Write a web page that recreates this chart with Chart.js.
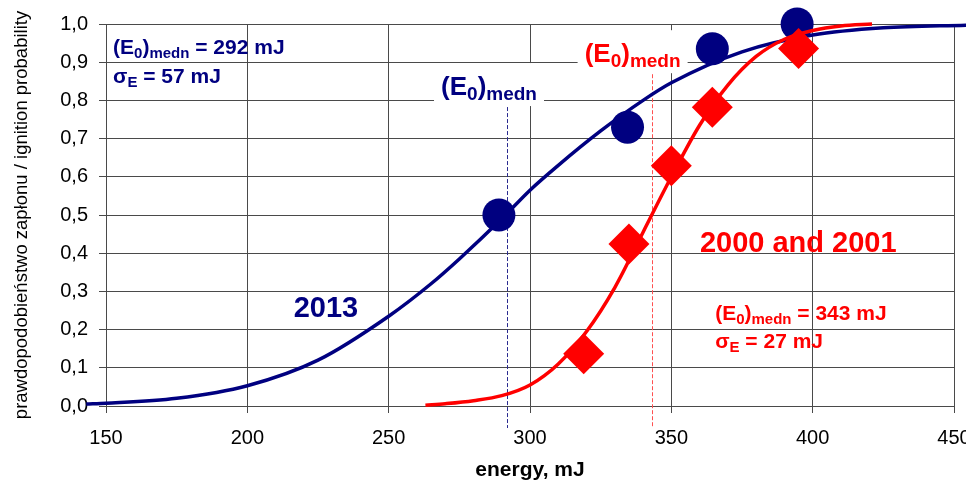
<!DOCTYPE html>
<html>
<head>
<meta charset="utf-8">
<script src="https://cdn.jsdelivr.net/npm/chart.js@4/dist/chart.umd.min.js"></script>
<style>
  html, body { margin: 0; padding: 0; background: #fff; }
  #wrap { width: 966px; height: 484px; position: relative; }
</style>
</head>
<body>
<div id="wrap"><canvas id="chart" width="966" height="484"></canvas></div>
<script>
// Axis ticks
const energyTicks = [150, 200, 250, 300, 350, 400, 450];
const probTicks = [0, 0.1, 0.2, 0.3, 0.4, 0.5, 0.6, 0.7, 0.8, 0.9, 1.0];

// Fitted ignition-probability curve, 2013 tests
const fit2013Energy = [143, 150, 175, 200, 225, 250, 265, 275, 290, 300, 310, 325, 340, 350, 375, 400, 425, 455];
const fit2013Prob   = [0.005, 0.007, 0.02, 0.053, 0.12, 0.235, 0.32, 0.385, 0.49, 0.565, 0.63, 0.72, 0.80, 0.846, 0.927, 0.971, 0.99, 0.997];

// Fitted ignition-probability curve, 2000 and 2001 tests
const fit2000Energy = [263, 270, 280, 290, 300, 310, 320, 330, 340, 350, 360, 370, 380, 390, 400, 410, 421];
const fit2000Prob   = [0.002, 0.006, 0.014, 0.027, 0.055, 0.11, 0.195, 0.31, 0.455, 0.60, 0.735, 0.84, 0.915, 0.96, 0.983, 0.995, 1.0];

// Measured ignition frequencies
const obs2013Energy = [289, 334.5, 364.5, 394.5];
const obs2013Prob   = [0.50, 0.73, 0.935, 1.0];
const obs2000Energy = [319, 335, 350, 364.5, 395];
const obs2000Prob   = [0.137, 0.424, 0.629, 0.782, 0.936];

// Median ignition energies
const median2013 = 292;
const median2000 = 343;

const NAVY = '#000080';
const RED = '#FF0000';
const GRID = '#4a4a4a';
const FONT = "'Liberation Sans', Arial, Helvetica, sans-serif";

const pts = (xs, ys) => xs.map((x, i) => ({ x: x, y: ys[i] }));

// Draws a run of text pieces, some of them as subscripts
function richText(ctx, pieces, x, y, align, color) {
  ctx.save();
  ctx.fillStyle = color;
  ctx.textBaseline = 'alphabetic';
  ctx.textAlign = 'left';
  let total = 0;
  pieces.forEach(p => {
    ctx.font = 'bold ' + p.size + 'px ' + FONT;
    p.w = ctx.measureText(p.t).width;
    total += p.w;
  });
  let cx = align === 'center' ? x - total / 2 : x;
  pieces.forEach(p => {
    ctx.font = 'bold ' + p.size + 'px ' + FONT;
    ctx.fillText(p.t, cx, y + (p.dy || 0));
    cx += p.w;
  });
  ctx.restore();
  return total;
}

const medianLabel = (size, sub) => [
  { t: '(E', size: size },
  { t: '0', size: sub, dy: sub * 0.27 },
  { t: ')', size: size },
  { t: 'medn', size: sub, dy: sub * 0.27 }
];

const notes = {
  id: 'notes',
  beforeDatasetsDraw(chart) {
    const { ctx, scales: { x, y } } = chart;
    const axisBottom = chart.chartArea.bottom;

    // Labelled median markers: white tag over the grid, dashed drop line
    const tags = [
      { cx: 285.5, base: 0.814, color: NAVY, median: median2013, dash: '#2a2a90' },
      { cx: 336.3, base: 0.900, color: RED, median: median2000, dash: '#ff5050' }
    ];
    tags.forEach(tg => {
      const px = x.getPixelForValue(tg.cx);
      const py = y.getPixelForValue(tg.base);
      ctx.save();
      ctx.fillStyle = '#fff';
      ctx.fillRect(px - 55, py - 32, 110, 43);
      ctx.restore();
      richText(ctx, medianLabel(26, 19), px, py, 'center', tg.color);

      const lx = Math.round(x.getPixelForValue(tg.median)) + 0.5;
      ctx.save();
      ctx.strokeStyle = tg.dash;
      ctx.lineWidth = 1;
      ctx.setLineDash([4, 2]);
      ctx.beginPath();
      ctx.moveTo(lx, py + 12);
      ctx.lineTo(lx, axisBottom + 22);
      ctx.stroke();
      ctx.restore();
    });

    // Fit parameters, 2013
    let px = x.getPixelForValue(152.5);
    richText(ctx, medianLabel(21, 15).concat([{ t: ' = 292 mJ', size: 21 }]),
      px, y.getPixelForValue(0.9214), 'left', NAVY);
    richText(ctx, [{ t: 'σ', size: 21 }, { t: 'E', size: 15, dy: 4 }, { t: ' = 57 mJ', size: 21 }],
      px, y.getPixelForValue(0.8454), 'left', NAVY);

    // Fit parameters, 2000 and 2001
    px = x.getPixelForValue(365.5);
    richText(ctx, medianLabel(21, 15).concat([{ t: ' = 343 mJ', size: 21 }]),
      px, y.getPixelForValue(0.2245), 'left', RED);
    richText(ctx, [{ t: 'σ', size: 21 }, { t: 'E', size: 15, dy: 4 }, { t: ' = 27 mJ', size: 21 }],
      px, y.getPixelForValue(0.1513), 'left', RED);

    // Series names
    richText(ctx, [{ t: '2013', size: 29 }], x.getPixelForValue(227.8), y.getPixelForValue(0.2332), 'center', NAVY);
    richText(ctx, [{ t: '2000 and 2001', size: 29 }], x.getPixelForValue(394.9), y.getPixelForValue(0.4035), 'center', RED);
  }
};

new Chart(document.getElementById('chart'), {
  type: 'scatter',
  data: {
    datasets: [
      {
        label: '2013 fit',
        data: pts(fit2013Energy, fit2013Prob),
        showLine: true, borderColor: NAVY, borderWidth: 3.5,
        cubicInterpolationMode: 'monotone',
        pointRadius: 0, clip: false, order: 4
      },
      {
        label: '2013',
        data: pts(obs2013Energy, obs2013Prob),
        showLine: false, pointStyle: 'circle', pointRadius: 16.5,
        backgroundColor: NAVY, borderColor: NAVY, borderWidth: 0,
        clip: false, order: 3
      },
      {
        label: '2000 and 2001 fit',
        data: pts(fit2000Energy, fit2000Prob),
        showLine: true, borderColor: RED, borderWidth: 3.5,
        cubicInterpolationMode: 'monotone',
        pointRadius: 0, clip: false, order: 2
      },
      {
        label: '2000 and 2001',
        data: pts(obs2000Energy, obs2000Prob),
        showLine: false, pointStyle: 'rectRot', pointRadius: 20.5,
        backgroundColor: RED, borderColor: RED, borderWidth: 0,
        clip: false, order: 1
      }
    ]
  },
  options: {
    responsive: false,
    animation: false,
    events: [],
    layout: { autoPadding: false, padding: { left: 0, right: 12, top: 24, bottom: 0 } },
    plugins: { legend: { display: false }, tooltip: { enabled: false } },
    scales: {
      x: {
        type: 'linear', min: 150, max: 450,
        afterBuildTicks: s => { s.ticks = energyTicks.map(v => ({ value: v })); },
        afterFit: s => { s.height = 78; s.paddingLeft = 0; s.paddingRight = 0; },
        grid: { color: GRID, lineWidth: 1, drawTicks: true, tickLength: 7 },
        border: { color: GRID, width: 1 },
        ticks: { color: '#000', font: { family: FONT, size: 20 }, padding: 13, maxRotation: 0, autoSkip: false },
        title: { display: true, text: 'energy, mJ', color: '#000',
                 font: { family: FONT, size: 21, weight: 'bold' }, padding: { top: 0, bottom: 1 } }
      },
      y: {
        type: 'linear', min: 0, max: 1,
        afterBuildTicks: s => { s.ticks = probTicks.map(v => ({ value: v })); },
        afterFit: s => { s.width = 106; s.paddingTop = 0; s.paddingBottom = 0; },
        grid: { color: GRID, lineWidth: 1, drawTicks: true, tickLength: 7 },
        border: { color: GRID, width: 1 },
        ticks: { color: '#000', font: { family: FONT, size: 20 }, padding: 11, autoSkip: false,
                 callback: v => (Math.round(v * 10) / 10).toFixed(1).replace('.', ',') },
        title: { display: true, text: 'prawdopodobieństwo zapłonu / ignition probability', color: '#000',
                 font: { family: FONT, size: 18.5 }, padding: { top: 11, bottom: 0 } }
      }
    }
  },
  plugins: [notes]
});
</script>
</body>
</html>
